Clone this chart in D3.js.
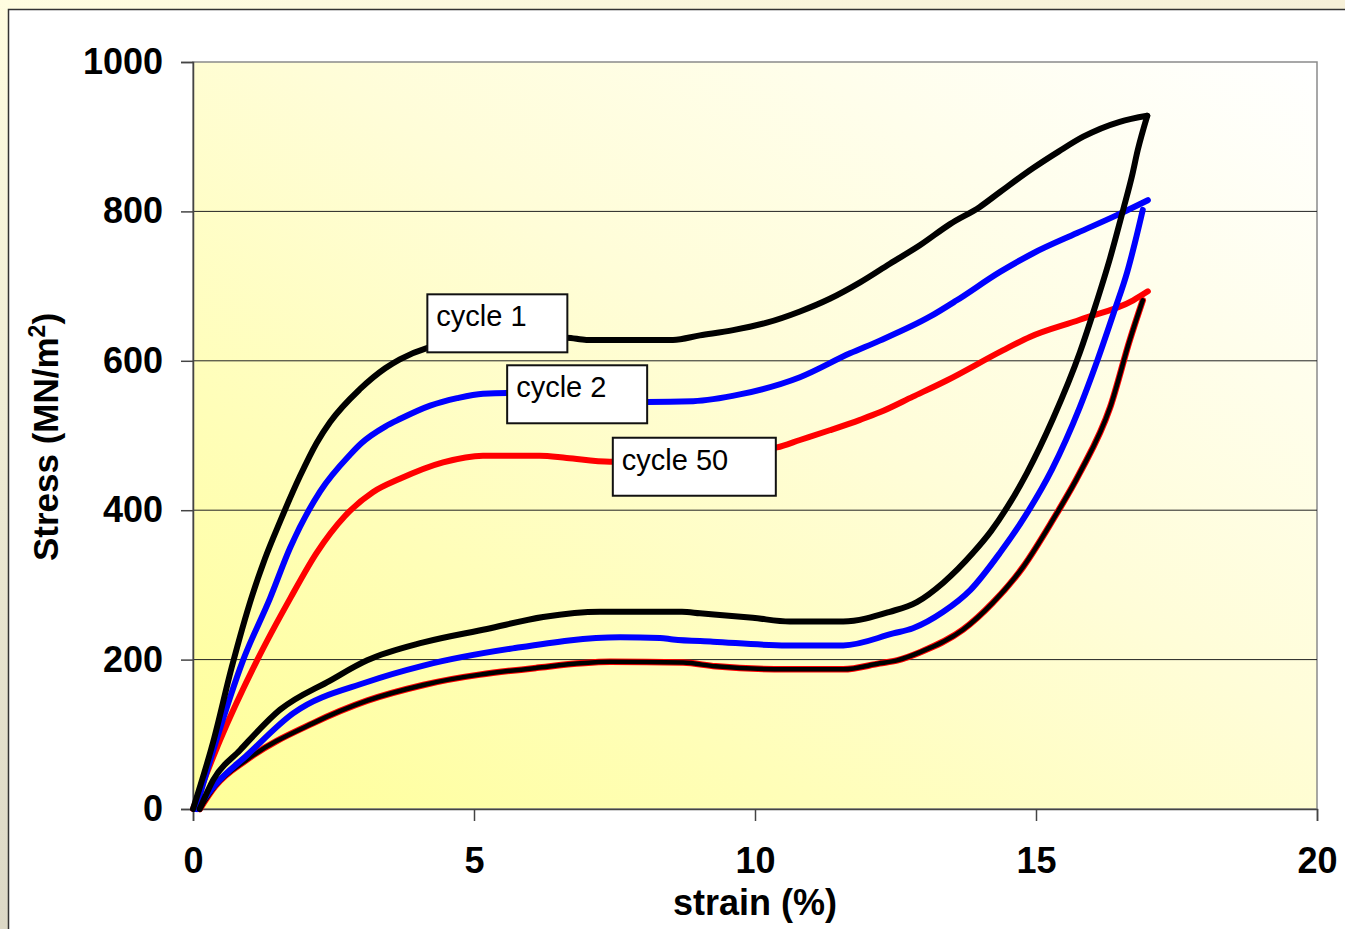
<!DOCTYPE html>
<html>
<head>
<meta charset="utf-8">
<script src="https://cdn.jsdelivr.net/npm/d3@7"></script>
<style>
  html, body { margin: 0; padding: 0; background: #fffde2; }
  svg { display: block; font-family: "Liberation Sans", Arial, sans-serif; }
</style>
</head>
<body>
<div id="chart"></div>
<script>
// [strain %, stress MN/m2]
const cycle1Load = [[0,0],[0.36,90],[0.69,190],[1.05,285],[1.28,335],[1.55,385],[1.9,445],[2.2,490],[2.44,518],[2.97,562],[3.42,590],[3.68,602],[4.16,617],[4.8,625],[5.5,629],[6.65,631],[7.0,628],[8.54,628],[9.02,634],[9.61,641],[10.21,651],[10.8,666],[11.33,683],[11.87,705],[12.4,730],[12.94,755],[13.47,783],[14.0,806],[14.36,826],[14.95,858],[15.4,880],[15.84,900],[16.49,920],[16.98,928]];
const cycle1Unload = [[16.98,928],[16.81,882],[16.71,848],[16.55,802],[16.32,738],[16.05,672],[15.78,611],[15.3,522],[14.84,450],[14.48,403],[14.2,372],[13.88,343],[13.35,303],[12.88,277],[12.4,264],[11.57,251],[10.62,251],[9.96,256],[9.02,262],[8.7,264],[7.24,264],[6.23,257],[5.23,241],[4.1,223],[3.1,199],[2.44,172],[1.55,133],[0.84,79],[0.36,39],[0.12,0]];
const cycle2Load = [[0.05,0],[0.39,86],[0.89,199],[1.37,282],[1.73,350],[2.26,425],[2.79,474],[3.0,490],[3.42,512],[3.68,522],[4.22,540],[4.7,550],[5.16,556],[5.59,557],[6.5,551],[8.08,545],[8.9,546],[9.73,555],[10.8,578],[11.69,610],[12.22,627],[13.11,659],[13.59,681],[14.36,719],[14.95,744],[15.73,771],[16.44,795],[16.99,815]];
const cycle2Unload = [[16.9,802],[16.76,758],[16.62,718],[16.4,668],[16.09,600],[15.78,538],[15.28,454],[14.84,396],[14.36,343],[13.83,293],[13.35,264],[12.81,242],[12.46,235],[11.57,219],[10.57,219],[9.25,224],[8.54,227],[8.31,229],[7.6,230],[5.69,215],[4.1,192],[3.1,170],[1.78,128],[0.96,72],[0.39,32],[0.07,0]];
const cycle50Load = [[0,0],[0.48,92],[1.14,199],[1.73,282],[2.2,343],[2.7,392],[3.2,424],[3.68,442],[4.45,464],[5.16,473],[6.17,473],[6.65,470],[7.42,465],[8.5,468],[9.5,476],[10.39,484],[10.8,494],[11.33,507],[11.87,521],[12.22,531],[12.81,552],[13.42,574],[14.41,614],[14.89,632],[15.78,655],[16.73,681],[16.99,693]];
const cycle50Unload = [[16.9,681],[16.67,628],[16.32,538],[15.78,450],[15.3,387],[14.77,324],[14.23,276],[13.7,240],[12.94,210],[12.53,199],[12.22,195],[11.57,187],[10.57,187],[9.3,191],[8.72,196],[7.42,197],[6.12,189],[4.1,166],[3.1,145],[2.14,115],[0.96,66],[0.39,30],[0.12,0]];

const xTicks = [0, 5, 10, 15, 20];
const yTicks = [0, 200, 400, 600, 800, 1000];
const gridValues = [200, 400, 600, 800];
const cycleLabels = ["cycle 1", "cycle 2", "cycle 50"];

const W = 1345, H = 929;
const plot = { left: 193, right: 1317, top: 62, bottom: 809 };

const svg = d3.select("#chart").append("svg")
    .attr("width", W)
    .attr("height", H);

const defs = svg.append("defs");

const outerGrad = defs.append("linearGradient")
    .attr("id", "outerGrad")
    .attr("x1", 0).attr("y1", 0).attr("x2", 1).attr("y2", 1);
outerGrad.append("stop").attr("offset", 0).attr("stop-color", "#fffde0");
outerGrad.append("stop").attr("offset", 0.5).attr("stop-color", "#f6f0d8");
outerGrad.append("stop").attr("offset", 1).attr("stop-color", "#e6e0cc");

const leftGrad = defs.append("linearGradient")
    .attr("id", "leftGrad")
    .attr("x1", 0).attr("y1", 0).attr("x2", 0).attr("y2", 1);
leftGrad.append("stop").attr("offset", 0).attr("stop-color", "#fffde0");
leftGrad.append("stop").attr("offset", 1).attr("stop-color", "#dcd8c6");

const plotGrad = defs.append("linearGradient")
    .attr("id", "plotGrad")
    .attr("x1", 0).attr("y1", 1).attr("x2", 1).attr("y2", 0);
plotGrad.append("stop").attr("offset", 0).attr("stop-color", "#ffff99");
plotGrad.append("stop").attr("offset", 0.55).attr("stop-color", "#fffdd8");
plotGrad.append("stop").attr("offset", 1).attr("stop-color", "#ffffff");

// page background + chart area
svg.append("rect").attr("width", W).attr("height", H).attr("fill", "url(#outerGrad)");
svg.append("rect").attr("x", 0).attr("y", 0).attr("width", 9).attr("height", H).attr("fill", "url(#leftGrad)");
svg.append("rect")
    .attr("x", 8.5).attr("y", 9.5)
    .attr("width", W + 10).attr("height", H + 10)
    .attr("fill", "#ffffff")
    .attr("stroke", "#333")
    .attr("stroke-width", 1.5);

const x = d3.scaleLinear().domain([0, 20]).range([plot.left, plot.right]);
const y = d3.scaleLinear().domain([0, 1000]).range([plot.bottom, plot.top]);

// plot area
svg.append("rect")
    .attr("x", x(0)).attr("y", y(1000))
    .attr("width", x(20) - x(0)).attr("height", y(0) - y(1000))
    .attr("fill", "url(#plotGrad)")
    .attr("stroke", "#8a8a8a")
    .attr("stroke-width", 1.5);

svg.append("g")
    .selectAll("line")
    .data(gridValues)
    .join("line")
    .attr("x1", x(0)).attr("x2", x(20))
    .attr("y1", d => y(d)).attr("y2", d => y(d))
    .attr("stroke", "#222")
    .attr("stroke-width", 1);

// axes
const xAxis = svg.append("g")
    .attr("transform", `translate(0,${plot.bottom})`)
    .call(d3.axisBottom(x).tickValues(xTicks).tickFormat(d3.format("d")).tickSize(12).tickPadding(26));
const yAxis = svg.append("g")
    .attr("transform", `translate(${plot.left},0)`)
    .call(d3.axisLeft(y).tickValues(yTicks).tickFormat(d3.format("d")).tickSize(12).tickPadding(18));

[xAxis, yAxis].forEach(a => {
    a.select(".domain").attr("stroke", "#444").attr("stroke-width", 1.5);
    a.selectAll(".tick line").attr("stroke", "#444").attr("stroke-width", 1.5);
    a.selectAll(".tick text")
        .attr("fill", "#000")
        .style("font-size", "36px")
        .style("font-weight", "bold")
        .style("font-family", "'Liberation Sans', Arial, sans-serif");
});
xAxis.selectAll(".tick text").attr("dy", "0.71em");

// curves
const line = d3.line()
    .x(d => x(d[0]))
    .y(d => y(d[1]))
    .curve(d3.curveMonotoneX);

const curves = svg.append("g").attr("fill", "none")
    .attr("stroke-linecap", "round").attr("stroke-linejoin", "round");

curves.append("path").datum(cycle50Load).attr("d", line)
    .attr("stroke", "#ff0000").attr("stroke-width", 6);
curves.append("path").datum(cycle50Unload).attr("d", line)
    .attr("stroke", "#ff0000").attr("stroke-width", 6.5);
curves.append("path").datum(cycle50Unload).attr("d", line)
    .attr("stroke", "#000").attr("stroke-width", 4.5);
curves.append("path").datum(cycle2Load).attr("d", line)
    .attr("stroke", "#0000ff").attr("stroke-width", 6);
curves.append("path").datum(cycle2Unload).attr("d", line)
    .attr("stroke", "#0000ff").attr("stroke-width", 6);
curves.append("path").datum(cycle1Load).attr("d", line)
    .attr("stroke", "#000").attr("stroke-width", 6);
curves.append("path").datum(cycle1Unload).attr("d", line)
    .attr("stroke", "#000").attr("stroke-width", 6);

// labels (box corner in data units)
const labelBoxes = [
    { text: cycleLabels[0], sx: 4.17, sy: 689, w: 140 },
    { text: cycleLabels[1], sx: 5.59, sy: 594, w: 140 },
    { text: cycleLabels[2], sx: 7.47, sy: 497, w: 163 }
];
const lab = svg.append("g").selectAll("g")
    .data(labelBoxes)
    .join("g")
    .attr("transform", d => `translate(${x(d.sx)},${y(d.sy)})`);
lab.append("rect")
    .attr("width", d => d.w).attr("height", 58)
    .attr("fill", "#fff")
    .attr("stroke", "#111")
    .attr("stroke-width", 2);
lab.append("text")
    .attr("x", 9).attr("y", 32)
    .style("font-size", "29px")
    .text(d => d.text);

// axis titles
svg.append("text")
    .attr("x", (plot.left + plot.right) / 2)
    .attr("y", 915)
    .attr("text-anchor", "middle")
    .style("font-size", "36px")
    .style("font-weight", "bold")
    .text("strain (%)");

const yTitle = svg.append("text")
    .attr("transform", "translate(58,437) rotate(-90)")
    .attr("text-anchor", "middle")
    .style("font-size", "35px")
    .style("font-weight", "bold");
yTitle.append("tspan").text("Stress (MN/m");
yTitle.append("tspan").attr("dy", -13).style("font-size", "23px").text("2");
yTitle.append("tspan").attr("dy", 13).text(")");
</script>
</body>
</html>
